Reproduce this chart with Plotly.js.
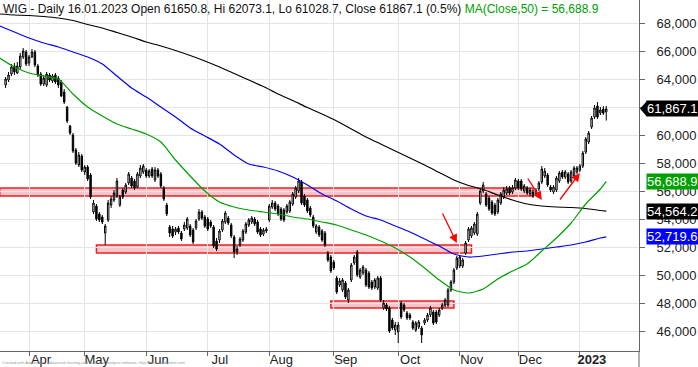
<!DOCTYPE html>
<html><head><meta charset="utf-8">
<script src="https://cdn.plot.ly/plotly-3.0.1.min.js"></script>
<style>html,body{margin:0;padding:0;background:#fff}#chart{width:698px;height:367px}</style>
</head><body><div id="chart"></div>
<script>
// ---------- data ----------
const holidays = ['2022-04-15','2022-04-18','2022-05-03','2022-06-16','2022-08-15','2022-11-01','2022-11-11','2022-12-26','2023-01-06'];
const firstDay = '2022-03-18';
const lastDay = '2023-01-16';
const candleStart = '2022-03-22';

const open = [
63572,63929,64357,64929,64429,64857,65571,65928,65143,65571,
65928,64928,64357,63643,63572,64286,63858,64286,64071,63786,
63071,62000,60642,60000,58929,57857,58500,57357,57714,57143,
54500,54929,54357,54143,53000,53929,55000,55357,55643,55000,
56071,55928,56572,56929,56715,56286,57072,57357,57500,57072,
57571,56786,57500,57214,56215,55000,53429,53286,53071,53358,
53000,53286,53358,53500,53214,53358,54000,54500,54143,54000,
53786,53429,52429,52500,53214,53786,54071,53572,52714,51643,
52143,52500,53071,53572,53786,54000,53786,53286,52929,53143,
53929,54857,55143,54929,54714,54643,54500,54572,55071,55571,
56000,56643,55643,55357,54786,54143,53071,53429,53143,53000,
51572,51286,50929,49786,49286,48929,49429,48214,49643,50857,
51643,49857,50143,50357,50143,49500,49143,49072,49786,47643,
47857,47643,46786,46071,45929,48000,47857,47286,47143,46643,
46071,46286,46214,46572,46786,47143,47357,47357,47143,47643,
47857,47857,48929,49500,50500,50643,50643,51572,52500,52786,
53000,52929,55143,56000,55786,55500,55214,55000,54500,55143,
55571,55857,56215,55929,56215,56715,56715,56000,56215,55786,
55929,55786,56143,56643,57072,57143,56286,55929,56071,56715,
57357,57000,57214,56715,57072,57357,57500,57786,58786,59500,
60572,61286,62072,61572,61857,61650.8];
const high = [
64143,64500,65071,65143,65214,65857,66214,66071,65714,66143,
66071,65071,64500,64286,64500,64429,64357,64429,64214,63929,
63286,62071,60714,60143,59072,58786,58643,57857,57857,57286,
55357,55071,54500,54286,53643,55357,55643,56071,56928,55714,
56215,56572,57357,57072,56857,57357,57857,57928,57643,57571,
57714,57714,57643,57357,56357,55143,53572,53500,53429,53500,
53143,53786,54143,53643,53358,54000,54714,54643,54286,54143,
53929,53572,52643,53286,54000,54572,54214,53715,52857,52072,
52714,53286,53786,54071,54214,54143,53929,53429,53358,53429,
55071,55357,55286,55071,54857,54786,55071,55357,55929,56357,
56929,56786,55786,55500,54929,54286,53643,53572,53286,53143,
51714,51429,51071,49929,49786,49786,49572,49071,50857,51429,
51786,50500,50714,50500,50286,49643,49786,49929,49929,48214,
48000,47786,46929,46643,46643,48143,48000,47429,47286,46786,
46715,46786,46357,46929,47286,47786,47500,47500,47643,48000,
48357,49071,49643,50500,51357,51429,51214,52429,53429,53500,
53786,54500,56143,56643,55929,55643,55357,55143,55500,55929,
56286,56357,56357,56429,56929,56857,56857,56500,56357,56215,
56071,56215,56715,57786,57643,57286,56429,56429,57072,57429,
57500,57500,57357,57500,57786,57786,57929,58857,59857,60286,
61357,62143,62357,62000,62071,62073.1];
const low = [
63358,63786,64214,64286,64357,64714,65428,64928,64928,65500,
64857,64143,63500,63500,63429,63786,63715,63643,63358,62714,
62214,60857,60000,58715,57857,57714,57357,57143,56715,55428,
54357,53858,53786,53643,52143,53786,54786,55214,55500,54857,
55428,55786,56429,56215,56071,56215,56929,57214,56929,56929,
56929,56643,56929,56215,55286,54214,52714,52643,52857,52929,
52429,53143,53214,52714,52214,53214,53858,53929,53358,53143,
53358,51929,51715,52286,53071,53643,53572,52643,51214,51429,
52000,52357,52929,53429,53643,53500,52929,52714,52786,53000,
53786,54714,54572,54214,53858,53786,54357,54429,54929,55428,
55857,55000,54857,54429,54143,53358,52929,52714,52357,52000,
50929,50143,50357,48643,49143,48786,48286,48000,49500,50714,
49857,49714,50000,49143,49000,48929,49000,48929,48072,47500,
47429,45857,46071,45714,45143,46857,47357,46786,46786,46071,
45929,46143,45143,46429,46643,47000,46429,46500,47000,47500,
47714,47714,48786,49357,50357,50500,50500,51429,52357,52643,
52857,52786,55000,55857,54857,54572,54286,54214,54357,55000,
55428,55714,55714,55786,56071,56071,56000,55857,55714,55643,
55500,55643,56000,56500,56929,56286,55929,55786,55929,56572,
56857,56857,56500,56572,56929,57214,57357,57643,58643,59357,
60429,61143,61143,61429,61429,61028.7];
const close = [
64000,64286,64857,64500,64928,65643,66000,65071,65571,65928,
65000,64286,63643,64071,64357,63929,64214,63786,63572,62786,
62357,61000,60143,58858,58000,58572,57500,57714,56857,55571,
55143,54000,53929,53786,53500,55143,55428,55857,56715,55571,
55571,56429,57214,56357,56215,57214,57643,57785,57072,57429,
57072,57500,57072,56357,55428,54357,53000,52786,53286,53071,
52572,53572,54000,52857,52357,53858,54500,54071,53500,53286,
53500,52072,51857,53143,53858,54429,53715,52786,51643,51857,
52571,53143,53643,53929,54071,53643,53071,52857,53214,53286,
54929,55143,54714,54357,54000,53929,54929,55214,55786,56215,
56715,55143,55000,54572,54286,53500,53500,52857,52500,52143,
51071,50286,50500,48786,49572,49643,48429,48929,50714,51286,
50000,50357,50572,49286,49143,49072,49643,49786,48214,48000,
47571,46000,46214,46429,46429,47000,47500,46929,46929,46214,
46572,46643,45714,46786,47143,47643,46572,46643,47500,47857,
48214,48929,49500,50357,51214,51286,51071,52286,53286,53358,
53643,54357,56000,56429,55000,54714,54429,54357,55357,55786,
56071,56143,55857,56215,56786,56215,56143,56357,55857,56071,
55643,56071,56572,57571,57429,56429,56071,56286,56929,57286,
57000,57357,56643,57357,57643,57643,57786,58715,59715,60143,
61214,61929,61286,61786,61559,61867.1];

const maDates = ['2022-03-18','2022-03-25','2022-04-01','2022-04-08','2022-04-19','2022-04-26','2022-05-04','2022-05-11','2022-05-18','2022-05-25','2022-06-01','2022-06-08','2022-06-15','2022-06-23','2022-06-30','2022-07-07','2022-07-14','2022-07-21','2022-07-28','2022-08-04','2022-08-11','2022-08-19','2022-08-26','2022-09-02','2022-09-09','2022-09-16','2022-09-23','2022-09-30','2022-10-07','2022-10-14','2022-10-21','2022-10-28','2022-11-07','2022-11-15','2022-11-22','2022-11-29','2022-12-06','2022-12-13','2022-12-20','2022-12-28','2023-01-04','2023-01-12','2023-01-16'];
const ma50 = [65500,64857,64429,64214,64000,62929,62000,61357,60786,60429,60072,59500,58214,57072,56000,55214,54857,54643,54500,54357,54143,54000,53786,53572,53214,52857,52429,51929,51286,50500,49643,48929,48714,49000,49714,50286,50786,51714,52643,53715,55072,56143,56688.9];
const ma100 = [67786,67357,66929,66572,66286,65929,65572,65071,64214,63357,62714,62000,61286,60500,59929,59357,58572,57929,57714,57429,57000,56429,55786,55286,54714,54214,53929,53500,53072,52572,52072,51500,51286,51357,51500,51643,51714,51857,52000,52143,52357,52643,52719.6];
const ma200 = [68643,68572,68536,68464,68357,68179,67893,67643,67322,67000,66643,66357,66036,65679,65286,64857,64393,63929,63464,62929,62464,61964,61500,61000,60429,59857,59357,58857,58357,57857,57321,56786,56393,56107,55714,55357,55071,54929,54857,54821,54750,54607,54564.2];

const zoneStart = ['2022-03-18','2022-05-09','2022-08-31'];
const zoneEnd = ['2022-12-08','2022-11-08','2022-10-28'];
const zoneLow = [55643,51571,47643];
const zoneHigh = [56214,52143,48143];

const arrowDates = ['2022-10-31','2022-12-13','2023-01-02'];
const arrowPrices = [52286,55357,57286];

const monthNames = ['Jan','Feb','Mar','Apr','May','Jun','Jul','Aug','Sep','Oct','Nov','Dec'];
const titleText = 'WIG - Daily 16.01.2023 Open 61650.8, Hi 62073.1, Lo 61028.7, Close 61867.1 (0.5%) ';
const titleMA = 'MA(Close,50) = 56,688.9';
const footerText = 'Created with AmiBroker - advanced charting and technical analysis software. http://www.amibroker.com';

// ---------- build ----------
function tradingDays(start, end){
  const out=[]; const d=new Date(start+'T00:00:00Z'); const e=new Date(end+'T00:00:00Z');
  while(d<=e){ const wd=d.getUTCDay(); const s=d.toISOString().slice(0,10);
    if(wd!==0 && wd!==6 && !holidays.includes(s)) out.push(s);
    d.setUTCDate(d.getUTCDate()+1);}
  return out;
}
const days = tradingDays(firstDay, lastDay);
const k0 = days.indexOf(candleStart);
const candleDates = days.slice(k0, k0 + open.length);
const cx = candleDates.map(d => days.indexOf(d));
const mx = maDates.map(d => days.indexOf(d));

const tickVals = [], tickText = [];
for (let k = 1; k < days.length; k++) {
  if (days[k].slice(5,7) !== days[k-1].slice(5,7)) {
    tickVals.push(k);
    const m = +days[k].slice(5,7);
    tickText.push(m === 1 ? '<b>' + days[k].slice(0,4) + '</b>' : monthNames[m-1]);
  }
}

const FONT = 'Liberation Sans, Arial, sans-serif';
const GREEN = '#00a000';

const traces = [
  {type:'scatter', mode:'lines', x:mx, y:ma200, line:{color:'#000000', width:1.2, shape:'spline', smoothing:0.6}, hoverinfo:'skip'},
  {type:'scatter', mode:'lines', x:mx, y:ma100, line:{color:'#0000ff', width:1.2, shape:'spline', smoothing:0.6}, hoverinfo:'skip'},
  {type:'scatter', mode:'lines', x:mx, y:ma50, line:{color:GREEN, width:1.2, shape:'spline', smoothing:0.6}, hoverinfo:'skip'},
  {type:'candlestick', x:cx, open:open, high:high, low:low, close:close,
   increasing:{line:{color:'#000000', width:1}, fillcolor:'#ffffff'},
   decreasing:{line:{color:'#000000', width:1}, fillcolor:'#000000'},
   whiskerwidth:0, hoverinfo:'skip'}
];

const shapes = [];
for (let i = 0; i < zoneStart.length; i++) {
  shapes.push({type:'rect', xref:'x', yref:'y', layer:'below',
    x0: days.indexOf(zoneStart[i]), x1: days.indexOf(zoneEnd[i]),
    y0: zoneLow[i], y1: zoneHigh[i],
    fillcolor:'#f8c4cb', line:{color:'#ee2020', width:1.5}});
}
const lastClose = close[close.length-1];
shapes.push({type:'line', xref:'paper', yref:'paper', x0:1, x1:1, y0:0, y1:-0.05, line:{color:'#666', width:1}});
shapes.push({type:'path', xref:'paper', xsizemode:'pixel', xanchor:1, yref:'y', ysizemode:'pixel', yanchor:lastClose,
  path:'M1,0 L8,8 L8,-8 Z', fillcolor:'#000', line:{width:0}});

const arrowAx = [-15,-15,-21], arrowAy = [-31,-23,28];
const annotations = [];
for (let i = 0; i < arrowDates.length; i++) {
  annotations.push({x: days.indexOf(arrowDates[i]), y: arrowPrices[i], xref:'x', yref:'y',
    ax: arrowAx[i], ay: arrowAy[i], text:'', showarrow:true, arrowhead:2, arrowsize:1.3,
    arrowwidth:1.3, arrowcolor:'#ff0000', standoff:0});
}
annotations.push({xref:'paper', yref:'paper', x:0, y:1, xanchor:'left', yanchor:'top', xshift:1, showarrow:false,
  text: titleText + '<span style="color:' + GREEN + '">' + titleMA + '</span>',
  font:{family:FONT, size:12, color:'#111'}});
annotations.push({xref:'paper', yref:'paper', x:0, y:0, xanchor:'left', yanchor:'bottom', yshift:-16, showarrow:false,
  text: footerText, font:{family:FONT, size:4, color:'#999'}});

const fmt = v => v.toLocaleString('en-US', {minimumFractionDigits:1, maximumFractionDigits:1});
const valueLabels = [
  {v: lastClose, bg:'#000000'},
  {v: ma50[ma50.length-1], bg: GREEN},
  {v: ma200[ma200.length-1], bg:'#000000'},
  {v: ma100[ma100.length-1], bg:'#0000ff'}
];
valueLabels.forEach(l => annotations.push({xref:'paper', yref:'y', x:1, y:l.v, xanchor:'left', yanchor:'middle',
  xshift:7, showarrow:false, text: fmt(l.v), bgcolor:l.bg, borderpad:0,
  font:{family:FONT, size:13, color:'#ffffff'}}));

const layout = {
  width:698, height:367,
  margin:{l:0, r:59, t:0, b:16},
  paper_bgcolor:'#ffffff', plot_bgcolor:'#ffffff',
  showlegend:false,
  font:{family:FONT, size:13, color:'#222'},
  xaxis:{range:[0.09, 0.09 + 639/2.93], tickvals:tickVals, ticktext:tickText,
    showgrid:true, gridcolor:'#e4e4e4', gridwidth:1, zeroline:false,
    ticks:'outside', ticklen:4, tickcolor:'#666', showline:true, linecolor:'#666', linewidth:1,
    rangeslider:{visible:false}, ticklabelshift:12, ticklabelstandoff:-8,
    tickfont:{family:FONT, size:13, color:'#222'}, fixedrange:true},
  yaxis:{side:'right', range:[44572, 69643], dtick:2000, tick0:0, tickformat:',d',
    showgrid:true, gridcolor:'#e4e4e4', gridwidth:1, zeroline:false,
    ticks:'outside', ticklen:5, tickcolor:'#666', showline:true, mirror:true, linecolor:'#666', linewidth:1,
    ticklabelstandoff:9, tickfont:{family:FONT, size:13, color:'#222'}, fixedrange:true},
  shapes:shapes,
  annotations:annotations
};

Plotly.newPlot('chart', traces, layout, {staticPlot:true, displayModeBar:false});
</script>
</body></html>
